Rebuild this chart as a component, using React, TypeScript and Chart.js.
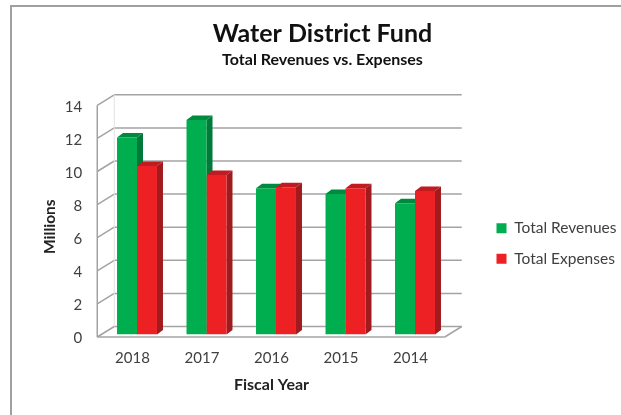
import React, { useEffect, useRef } from "react";
import { Chart, registerables } from "chart.js";

Chart.register(...registerables);

const years = ["2018", "2017", "2016", "2015", "2014"];
const revenues = [11.9, 12.96, 8.83, 8.49, 7.93];
const expenses = [10.18, 9.64, 8.9, 8.83, 8.67];
const yTicks = [0, 2, 4, 6, 8, 10, 12, 14];

const GREEN = "#00AE4F";
const RED = "#ED2024";
const FONT = "Lato";
const GRID = "#a3a3a3";

const BACK = { x: 12, y: -8 };
const FRONT = { x: -5, y: 2.5 };
const BAR_DEPTH = { x: 6, y: -4.5 };
const faces = [
  { top: "#008A40", side: "#007A3A" },
  { top: "#C01B20", side: "#A01A1E" },
];

function line(ctx: CanvasRenderingContext2D, x1: number, y1: number, x2: number, y2: number) {
  ctx.beginPath();
  ctx.moveTo(x1, y1);
  ctx.lineTo(x2, y2);
  ctx.stroke();
}

function poly(ctx: CanvasRenderingContext2D, pts: number[][], color: string) {
  ctx.fillStyle = color;
  ctx.beginPath();
  pts.forEach(([x, y], i) => (i ? ctx.lineTo(x, y) : ctx.moveTo(x, y)));
  ctx.closePath();
  ctx.fill();
}

function nudgeTitle(scale: any, dx: number, dy: number) {
  if (scale.$nudged) return;
  scale.$nudged = true;
  const draw = scale.drawTitle;
  scale.drawTitle = function () {
    this.ctx.save();
    this.ctx.translate(dx, dy);
    draw.call(this);
    this.ctx.restore();
  };
}

const placement = {
  id: "placement",
  afterLayout(chart: any) {
    chart.boxes
      .filter((b: any) => b.position === "top")
      .forEach((b: any) => {
        b.left = 0;
        b.right = 645;
      });
    const lg = chart.legend;
    const w = lg.width;
    lg.left = 481.5;
    lg.right = 481.5 + w;
    lg.top = 205.5;
    lg.bottom = 290;
    nudgeTitle(chart.scales.y, 0, 8);
    nudgeTitle(chart.scales.x, -4.5, 1);
  },
};

const depth3d = {
  id: "depth3d",
  beforeDatasetsDraw(chart: any) {
    const ctx: CanvasRenderingContext2D = chart.ctx;
    const { left, right } = chart.chartArea;
    const y = chart.scales.y;
    ctx.save();
    ctx.strokeStyle = GRID;
    ctx.lineWidth = 1.5;
    yTicks.forEach((v) => {
      const p = y.getPixelForValue(v);
      line(ctx, left + BACK.x, p + BACK.y, right + BACK.x, p + BACK.y);
      line(ctx, left + FRONT.x, p + FRONT.y, left + BACK.x, p + BACK.y);
    });
    const p0 = y.getPixelForValue(0);
    const p14 = y.getPixelForValue(14);
    line(ctx, left + FRONT.x, p14 + FRONT.y, left + FRONT.x, p0 + FRONT.y);
    ctx.strokeStyle = "#e2e2e2";
    ctx.lineWidth = 1;
    line(ctx, left + BACK.x, p14 + BACK.y, left + BACK.x, p0 + BACK.y);
    ctx.strokeStyle = GRID;
    ctx.lineWidth = 1.5;
    line(ctx, left + FRONT.x, p0 + FRONT.y, right + FRONT.x, p0 + FRONT.y);
    line(ctx, right + FRONT.x, p0 + FRONT.y, right + BACK.x, p0 + BACK.y);

    [0, 1].forEach((di) => {
      chart.getDatasetMeta(di).data.forEach((bar: any) => {
        const l = bar.x - bar.width / 2;
        const r = bar.x + bar.width / 2;
        const t = bar.y;
        const b = bar.base;
        poly(ctx, [[l, t], [l + BAR_DEPTH.x, t + BAR_DEPTH.y], [r + BAR_DEPTH.x, t + BAR_DEPTH.y], [r, t]], faces[di].top);
        poly(ctx, [[r, t], [r + BAR_DEPTH.x, t + BAR_DEPTH.y], [r + BAR_DEPTH.x, b + BAR_DEPTH.y], [r, b]], faces[di].side);
      });
    });
    ctx.restore();
  },
};

export default function App() {
  const ref = useRef<HTMLCanvasElement>(null);
  useEffect(() => {
    const chart = new Chart(ref.current!, {
      type: "bar",
      data: {
        labels: years,
        datasets: [
          { label: "Total Revenues", data: revenues, backgroundColor: GREEN, borderWidth: 0 },
          { label: "Total Expenses", data: expenses, backgroundColor: RED, borderWidth: 0 },
        ],
      },
      plugins: [placement, depth3d],
      options: {
        animation: false,
        responsive: false,
        datasets: { bar: { categoryPercentage: 0.575, barPercentage: 1 } },
        layout: { padding: { left: 37.25, right: 171.25, top: 0, bottom: 20 } },
        plugins: {
          tooltip: { enabled: false },
          title: {
            display: true,
            text: "Water District Fund",
            color: "#111111",
            font: { family: FONT, size: 25, weight: "bold", lineHeight: 1.2 },
            padding: { top: 19, bottom: 0 },
          },
          subtitle: {
            display: true,
            text: "Total Revenues vs. Expenses",
            color: "#111111",
            font: { family: FONT, size: 16, weight: "bold", lineHeight: 1.2 },
            padding: { top: 1.4, bottom: 33.2 },
          },
          legend: {
            position: "chartArea",
            align: "start",
            labels: {
              boxWidth: 10,
              boxHeight: 10,
              padding: 15,
              color: "#404040",
              font: { family: FONT, size: 15.5 },
            },
          },
        },
        scales: {
          x: {
            grid: { display: false, drawTicks: false },
            border: { display: false },
            ticks: { color: "#404040", font: { family: FONT, size: 15 }, padding: 15, labelOffset: -4.5, maxRotation: 0 },
            title: {
              display: true,
              text: "Fiscal Year",
              color: "#222222",
              font: { family: FONT, size: 16, weight: "bold" },
              padding: { top: 0, bottom: 2 },
            },
            afterFit(scale: any) {
              scale.height = 60.5;
            },
          },
          y: {
            min: 0,
            max: 14,
            grid: { display: false, drawTicks: false },
            border: { display: false },
            ticks: { stepSize: 2, color: "#404040", font: { family: FONT, size: 15 }, padding: 20, labelOffset: 4 },
            title: {
              display: true,
              text: "Millions",
              color: "#222222",
              font: { family: FONT, size: 15.5, weight: "bold" },
              padding: { top: 3, bottom: 0 },
            },
            afterFit(scale: any) {
              scale.width = 65;
            },
          },
        },
      },
    } as any);
    return () => chart.destroy();
  }, []);

  return (
    <div
      style={{
        position: "absolute",
        left: 0,
        top: 0,
        width: 621,
        height: 415,
        overflow: "hidden",
        background: "#fff",
        filter: "blur(0.4px)",
      }}
    >
      <div
        style={{
          position: "absolute",
          left: 10,
          top: 5,
          right: 0,
          bottom: 0,
          borderLeft: "2px solid #a0a0a0",
          borderTop: "2px solid #a0a0a0",
        }}
      />
      <canvas ref={ref} width={621} height={415} style={{ position: "absolute", left: 0, top: 0 }} />
    </div>
  );
}
